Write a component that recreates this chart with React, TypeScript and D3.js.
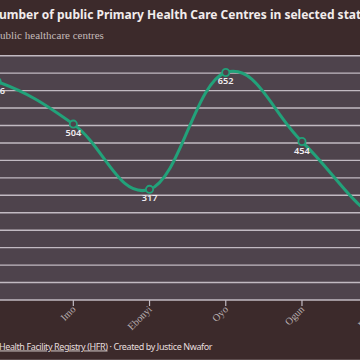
import React from "react";
import * as d3 from "d3";

const states = ["Kaduna", "Lagos", "Imo", "Ebonyi", "Oyo", "Ogun", "Enugu", "Rivers"];
const centres = [665, 626, 504, 317, 652, 454, 228, 150];
const yTicks = d3.range(0, 701, 50);

const W = 360;
const H = 360;
const BG = "#3c2a2b";
const PLOT_BG = "#4e434c";
const GRID = "#c2bac2";
const GREEN = "#22a27a";

export default function App() {
  const x = d3
    .scalePoint<string>()
    .domain(states)
    .range([-79.1, 454.4]);
  const y = d3.scaleLinear().domain([0, 700]).range([300, 55.7]);

  const line = d3
    .line<number>()
    .x((_, i) => x(states[i]) as number)
    .y((d) => y(d))
    .curve(d3.curveCardinal.tension(-0.2));

  const plotLeft = -100;
  const plotRight = 480;

  return (
    <svg
      width={W}
      height={H}
      style={{ position: "absolute", left: 0, top: 0, display: "block" }}
    >
      <rect x={0} y={0} width={W} height={H} fill={BG} />
      <text
        y={19}
        fill="#f2ecec"
        fontFamily="'Noto Sans', sans-serif"
        fontWeight={700}
        fontSize={12}
      >
        <tspan x={-1} textAnchor="end">N</tspan>
        <tspan x={-1} textAnchor="start">umber of public Primary Health Care Centres in selected states</tspan>
      </text>
      <text
        y={39}
        fill="#c4baba"
        fontFamily="'Liberation Serif', serif"
        fontSize={11}
      >
        <tspan x={0} textAnchor="end">Number of p</tspan>
        <tspan x={0} textAnchor="start">ublic healthcare centres</tspan>
      </text>

      <rect
        x={plotLeft}
        y={y(700)}
        width={plotRight - plotLeft}
        height={y(0) - y(700)}
        fill={PLOT_BG}
      />
      {yTicks.map((t) => (
        <line
          key={t}
          x1={plotLeft}
          x2={plotRight}
          y1={y(t)}
          y2={y(t)}
          stroke={GRID}
          strokeWidth={1.4}
        />
      ))}

      {states.map((s) => (
        <g key={s}>
          <line
            x1={x(s)}
            x2={x(s)}
            y1={300}
            y2={306}
            stroke={GRID}
            strokeWidth={1.2}
          />
          <text
            transform={`translate(${(x(s) as number) + 3},${310}) rotate(-45)`}
            textAnchor="end"
            fill="#bab0b2"
            fontFamily="'Liberation Serif', serif"
            fontSize={10.2}
          >
            {s}
          </text>
        </g>
      ))}

      <path
        d={line(centres) || ""}
        fill="none"
        stroke={GREEN}
        strokeWidth={3}
        strokeLinecap="round"
      />
      {centres.map((v, i) => (
        <g key={states[i]}>
          <circle
            cx={x(states[i])}
            cy={y(v)}
            r={3.6}
            fill={PLOT_BG}
            stroke={GREEN}
            strokeWidth={1.8}
          />
          <text
            x={x(states[i])}
            y={y(v) + 12}
            textAnchor="middle"
            fill="#f0ecf0"
            fontFamily="'Noto Sans', sans-serif"
            fontWeight={600}
            fontSize={9.2}
          >
            {v}
          </text>
        </g>
      ))}

      <g
        fontFamily="'Noto Sans', sans-serif"
        fontSize={9}
        fill="#e6dede"
        letterSpacing={-0.4}
      >
        <text x={-1} y={349.5} textAnchor="end">
          Source: <tspan style={{ textDecoration: "underline" }}>Nigeria </tspan>
        </text>
        <text x={-1} y={349.5} textAnchor="start">
          <tspan style={{ textDecoration: "underline" }}>Health Facility Registry (HFR)</tspan>
          {" · Created by Justice Nwafor"}
        </text>
      </g>
      <line x1={0} x2={W} y1={359.5} y2={359.5} stroke="#5e4e4f" strokeWidth={1} />
    </svg>
  );
}
